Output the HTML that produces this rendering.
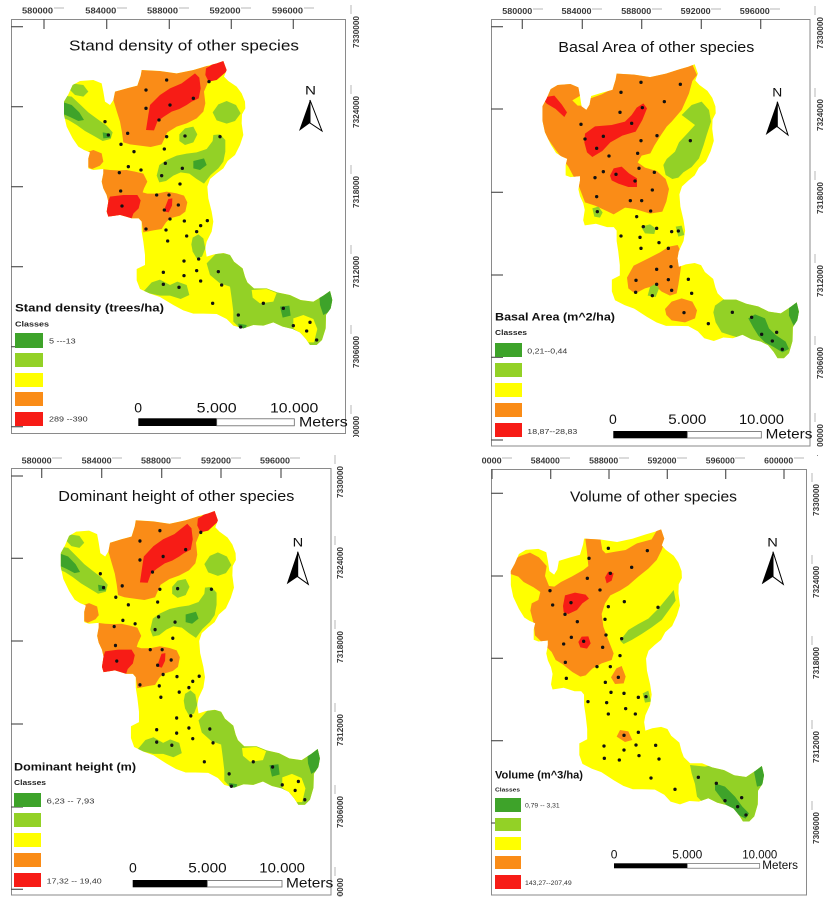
<!DOCTYPE html>
<html><head><meta charset="utf-8"><style>
html,body{margin:0;padding:0;background:#fff;}
svg{display:block;}
.tk{font-family:"Liberation Sans",sans-serif;font-weight:bold;font-size:8px;fill:#3a3a3a;}
.ti{font-family:"Liberation Sans",sans-serif;font-size:15px;fill:#111;}
.lt{font-family:"Liberation Sans",sans-serif;font-weight:bold;font-size:11px;fill:#111;}
.cl{font-family:"Liberation Sans",sans-serif;font-weight:bold;font-size:7px;fill:#222;}
.lb{font-family:"Liberation Sans",sans-serif;font-size:7.5px;fill:#333;}
.sc{font-family:"Liberation Sans",sans-serif;font-size:14px;fill:#111;}
.nn{font-family:"Liberation Sans",sans-serif;font-size:12px;fill:#111;}
</style></head><body>
<svg width="829" height="904" viewBox="0 0 829 904" xmlns="http://www.w3.org/2000/svg">
<defs>
<path id="outl" d="M38,90 L60,78 100,75 125,85 130,110 135,140 150,150 160,135 165,110 200,100 232,92 242,62 245,45 300,48 350,55 400,45 440,33 470,25 490,18 500,45 492,65 505,78 530,95 545,115 555,140 556,160 546,178 545,205 550,240 540,270 525,300 503,318 490,340 470,355 450,372 442,395 445,430 455,470 460,500 455,530 440,560 436,580 440,605 462,598 490,594 510,600 522,620 548,640 555,665 562,682 582,700 620,700 652,712 690,720 722,735 760,740 790,722 810,708 817,735 812,760 798,780 797,820 786,855 770,870 750,870 738,852 720,832 698,822 668,815 640,802 610,812 580,810 550,820 520,812 500,792 470,777 430,776 400,776 370,766 340,750 300,726 270,716 240,702 230,676 230,642 255,630 255,600 250,560 245,530 245,500 236,490 215,490 180,480 145,485 140,470 145,440 140,420 130,400 125,380 130,355 130,342 100,345 85,340 85,310 90,292 72,285 55,275 38,250 20,215 12,180 12,140 25,118 Z"/>
<clipPath id="c1"><use href="#outl"/></clipPath>
<clipPath id="c2"><use href="#outl" transform="translate(25,30) scale(0.956,1.035) translate(-15,-20)"/></clipPath>
<clipPath id="c4"><use href="#outl" transform="translate(20,30) scale(0.944,1.029) translate(-15,-20)"/></clipPath>
</defs>

<!-- ============ PANEL 1 MAP ============ -->
<g id="map1"><g transform="translate(60,55) scale(0.33333)">
 <g clip-path="url(#c1)">
  <rect x="0" y="0" width="900" height="900" fill="#ffff00"/>
  <polygon fill="#fa8c17" points="160,135 165,110 200,100 232,92 242,62 245,45 300,48 350,55 400,45 440,33 462,35 470,60 445,80 432,110 436,145 430,170 410,190 380,205 350,215 322,232 305,268 272,276 240,272 210,268 190,262 186,232 180,200 170,168"/>
  <polygon fill="#fa8c17" points="80,292 100,285 125,295 130,320 120,332 96,342 80,335"/>
  <polygon fill="#fa8c17" points="125,342 150,345 175,346 200,345 225,350 250,356 262,380 252,400 248,412 262,416 290,416 320,410 350,415 372,422 382,442 376,470 360,482 330,490 318,502 305,522 280,526 250,532 245,500 236,490 215,490 180,480 140,490 135,440 125,400"/>
  <polygon fill="#f71c16" points="258,225 265,180 270,150 300,120 330,100 365,85 405,55 418,68 422,100 416,130 395,140 380,150 358,162 335,170 310,186 292,200 282,226"/>
  <polygon fill="#f71c16" points="438,40 470,20 495,10 505,45 470,75 446,80 436,60"/>
  <polygon fill="#f71c16" points="140,452 150,425 190,420 232,420 242,436 236,460 220,476 215,490 180,480 140,490"/>
  <polygon fill="#f71c16" points="315,458 325,432 337,430 336,452 326,472 315,470"/>
  <polygon fill="#93d126" points="35,85 70,90 85,110 70,125 45,120 30,105"/>
  <polygon fill="#93d126" points="0,120 35,125 60,148 85,172 112,192 140,212 158,232 152,252 128,258 100,242 75,228 50,210 25,195 0,185"/>
  <polygon fill="#93d126" points="458,172 475,148 500,138 528,150 542,175 525,198 500,206 470,196"/>
  <polygon fill="#93d126" points="358,238 375,220 400,215 412,238 400,262 375,270 358,258"/>
  <polygon fill="#93d126" points="290,362 298,330 320,315 350,302 380,296 410,292 440,282 458,258 460,240 480,238 496,255 496,290 490,320 475,340 452,360 432,386 410,372 388,356 362,352 340,362 318,378 298,382"/>
  <polygon fill="#93d126" points="398,548 415,538 430,550 436,580 426,605 410,610 398,590 394,568"/>
  <polygon fill="#93d126" points="248,712 275,682 300,674 330,690 352,680 380,690 388,720 362,732 330,722 300,722 272,716"/>
  <polygon fill="#93d126" points="440,625 468,596 510,594 522,620 548,640 556,668 564,684 582,700 620,700 652,712 690,720 722,735 760,740 790,722 812,705 830,700 830,890 740,890 540,820 520,800 520,770 515,730 510,695 480,685 450,660"/>
  <polygon fill="#ffff00" points="700,790 730,780 760,792 772,822 762,862 742,862 722,836 700,820"/>
  <polygon fill="#ffff00" points="575,705 620,702 650,714 640,740 600,745 578,728"/>
  <polygon fill="#3ea32a" points="5,140 35,150 58,172 72,195 55,198 30,186 5,175"/>
  <polygon fill="#3ea32a" points="128,232 150,236 152,248 130,250"/>
  <polygon fill="#3ea32a" points="778,722 815,700 822,740 808,770 790,780 780,750"/>
  <polygon fill="#3ea32a" points="660,755 688,752 692,782 668,788"/>
  <polygon fill="#3ea32a" points="535,806 560,810 556,826 535,822"/>
  <polygon fill="#3ea32a" points="400,318 432,310 440,330 420,345 400,340"/>
 </g>
 <g fill="#111">
  <circle cx="320" cy="75" r="5"/><circle cx="258" cy="105" r="5"/><circle cx="447" cy="80" r="5"/><circle cx="400" cy="130" r="5"/><circle cx="330" cy="150" r="5"/><circle cx="258" cy="160" r="5"/><circle cx="297" cy="195" r="5"/><circle cx="135" cy="200" r="5"/><circle cx="203" cy="235" r="5"/><circle cx="320" cy="245" r="5"/><circle cx="375" cy="243" r="5"/><circle cx="480" cy="245" r="5"/><circle cx="145" cy="240" r="5"/><circle cx="183" cy="268" r="5"/><circle cx="313" cy="282" r="5"/><circle cx="222" cy="290" r="5"/><circle cx="205" cy="335" r="5"/><circle cx="243" cy="345" r="5"/><circle cx="178" cy="353" r="5"/><circle cx="316" cy="325" r="5"/><circle cx="367" cy="340" r="5"/><circle cx="305" cy="362" r="5"/><circle cx="360" cy="387" r="5"/><circle cx="182" cy="408" r="5"/><circle cx="290" cy="420" r="5"/><circle cx="327" cy="420" r="5"/><circle cx="186" cy="453" r="5"/><circle cx="313" cy="465" r="5"/><circle cx="355" cy="450" r="5"/><circle cx="330" cy="492" r="5"/><circle cx="373" cy="498" r="5"/><circle cx="422" cy="512" r="5"/><circle cx="442" cy="497" r="5"/><circle cx="258" cy="522" r="5"/><circle cx="318" cy="525" r="5"/><circle cx="323" cy="558" r="5"/><circle cx="380" cy="543" r="5"/><circle cx="410" cy="530" r="5"/><circle cx="416" cy="612" r="5"/><circle cx="372" cy="618" r="5"/><circle cx="310" cy="652" r="5"/><circle cx="372" cy="662" r="5"/><circle cx="410" cy="647" r="5"/><circle cx="422" cy="678" r="5"/><circle cx="310" cy="688" r="5"/><circle cx="357" cy="697" r="5"/><circle cx="485" cy="690" r="5"/><circle cx="475" cy="650" r="5"/><circle cx="458" cy="745" r="5"/><circle cx="535" cy="780" r="5"/><circle cx="610" cy="745" r="5"/><circle cx="670" cy="760" r="5"/><circle cx="700" cy="812" r="5"/><circle cx="740" cy="828" r="5"/><circle cx="770" cy="855" r="5"/><circle cx="750" cy="802" r="5"/><circle cx="542" cy="816" r="5"/>
 </g>
</g></g>

<!-- ============ PANEL 3 MAP (copy) ============ -->
<use href="#map1" transform="translate(61.7,511.7) scale(0.966,1.035) translate(-65,-61.7)"/>

<!-- ============ PANEL 2 MAP ============ -->
<g transform="translate(535,55) scale(0.33333)">
 <g clip-path="url(#c2)">
  <rect x="0" y="0" width="900" height="1000" fill="#ffff00"/>
  <polygon fill="#fa8c17" points="5,100 45,80 95,76 132,88 136,122 112,136 128,152 160,152 166,130 200,118 234,100 238,55 300,45 380,38 430,28 472,28 486,60 472,78 462,115 440,165 410,200 395,215 378,240 358,272 346,295 320,302 308,322 330,338 365,348 392,372 402,402 394,440 382,470 345,476 300,462 270,458 250,470 236,478 215,468 180,452 150,442 132,395 100,335 60,282 38,250 15,200 5,150"/>
  <polygon fill="#f71c16" points="20,128 58,122 80,148 96,172 88,186 62,162 35,146"/>
  <polygon fill="#f71c16" points="148,262 150,236 180,214 230,210 270,200 290,180 305,158 325,145 336,160 322,195 302,230 262,242 226,262 202,288 172,306 156,292"/>
  <polygon fill="#f71c16" points="225,362 236,340 260,335 282,355 306,370 306,396 280,396 250,386 230,376"/>
  <polygon fill="#93d126" points="440,180 470,150 500,140 522,165 528,200 515,240 506,270 492,310 470,336 445,352 430,368 412,372 392,360 385,330 395,312 420,290 432,262 460,232 480,210"/>
  <polygon fill="#93d126" points="172,460 190,455 203,472 195,488 178,485"/>
  <polygon fill="#93d126" points="318,515 345,508 362,520 358,537 330,535"/>
  <polygon fill="#93d126" points="422,515 440,512 448,540 430,545"/>
  <polygon fill="#fa8c17" points="276,668 296,632 340,610 375,592 402,575 428,570 442,600 436,650 430,690 425,715 405,722 380,710 360,692 330,700 300,716 280,700"/>
  <polygon fill="#93d126" points="338,722 345,696 362,686 372,700 362,726"/>
  <polygon fill="#fa8c17" points="390,762 410,740 440,730 472,740 486,766 480,790 450,802 410,796 394,780"/>
  <polygon fill="#93d126" points="540,752 570,730 620,728 662,735 700,744 740,740 800,735 800,920 740,920 700,900 660,882 640,862 618,850 590,842 560,832 542,802 535,772"/>
  <polygon fill="#3ea32a" points="640,790 660,778 690,790 702,820 722,840 752,860 762,882 742,892 716,876 690,862 670,842 655,818"/>
  <polygon fill="#3ea32a" points="762,745 800,725 800,795 776,812 762,782"/>
 </g>
 <g fill="#111">
  <circle cx="318" cy="82" r="5"/><circle cx="436" cy="88" r="5"/><circle cx="258" cy="112" r="5"/><circle cx="388" cy="140" r="5"/><circle cx="322" cy="158" r="5"/><circle cx="255" cy="172" r="5"/><circle cx="290" cy="205" r="5"/><circle cx="138" cy="208" r="5"/><circle cx="150" cy="252" r="5"/><circle cx="205" cy="244" r="5"/><circle cx="185" cy="280" r="5"/><circle cx="318" cy="257" r="5"/><circle cx="366" cy="242" r="5"/><circle cx="466" cy="257" r="5"/><circle cx="308" cy="295" r="5"/><circle cx="222" cy="303" r="5"/><circle cx="205" cy="350" r="5"/><circle cx="180" cy="368" r="5"/><circle cx="243" cy="358" r="5"/><circle cx="300" cy="378" r="5"/><circle cx="312" cy="340" r="5"/><circle cx="352" cy="405" r="5"/><circle cx="185" cy="425" r="5"/><circle cx="286" cy="437" r="5"/><circle cx="320" cy="437" r="5"/><circle cx="347" cy="468" r="5"/><circle cx="358" cy="352" r="5"/><circle cx="187" cy="470" r="5"/><circle cx="305" cy="485" r="5"/><circle cx="325" cy="515" r="5"/><circle cx="365" cy="520" r="5"/><circle cx="410" cy="530" r="5"/><circle cx="430" cy="528" r="5"/><circle cx="258" cy="543" r="5"/><circle cx="315" cy="547" r="5"/><circle cx="372" cy="563" r="5"/><circle cx="318" cy="580" r="5"/><circle cx="400" cy="580" r="5"/><circle cx="365" cy="643" r="5"/><circle cx="408" cy="635" r="5"/><circle cx="303" cy="676" r="5"/><circle cx="400" cy="674" r="5"/><circle cx="460" cy="673" r="5"/><circle cx="365" cy="688" r="5"/><circle cx="352" cy="722" r="5"/><circle cx="302" cy="712" r="5"/><circle cx="410" cy="706" r="5"/><circle cx="470" cy="715" r="5"/><circle cx="447" cy="773" r="5"/><circle cx="520" cy="806" r="5"/><circle cx="592" cy="772" r="5"/><circle cx="650" cy="787" r="5"/><circle cx="680" cy="838" r="5"/><circle cx="712" cy="858" r="5"/><circle cx="742" cy="883" r="5"/><circle cx="725" cy="832" r="5"/>
 </g>
</g>

<!-- ============ PANEL 4 MAP ============ -->
<g transform="translate(505,520) scale(0.33333)">
 <g clip-path="url(#c4)">
  <rect x="0" y="0" width="900" height="1000" fill="#ffff00"/>
  <polygon fill="#fa8c17" points="10,130 45,108 75,98 102,112 125,138 120,168 132,198 148,200 168,186 200,170 235,150 250,138 246,96 240,50 285,50 292,90 302,100 332,95 362,90 396,70 440,58 462,20 485,50 470,90 455,120 430,146 400,170 370,196 345,212 316,226 300,250 290,282 295,320 310,360 326,400 320,420 290,430 262,446 242,466 226,470 202,456 172,432 152,420 140,396 110,366 90,346 86,310 76,272 80,250 100,240 106,216 86,202 56,186 40,170 10,160"/>
  <polygon fill="#f71c16" points="174,258 180,226 210,218 242,224 252,236 232,250 216,270 190,282 176,276"/>
  <polygon fill="#f71c16" points="220,366 230,350 250,349 257,370 246,386 226,382"/>
  <polygon fill="#f71c16" points="300,172 310,155 326,160 320,182 305,190"/>
  <polygon fill="#fa8c17" points="318,472 334,445 350,438 362,470 356,490 330,492"/>
  <polygon fill="#fa8c17" points="335,650 345,630 370,634 382,660 360,666"/>
  <polygon fill="#93d126" points="345,362 370,330 400,312 430,296 460,266 488,232 506,210 512,242 492,270 470,300 440,322 410,342 380,360 356,372"/>
  <polygon fill="#93d126" points="413,520 430,512 438,545 420,548"/>
  <polygon fill="#93d126" points="555,735 600,740 650,728 700,738 800,725 800,930 700,900 660,872 630,860 596,850 576,830 570,792 560,760"/>
  <polygon fill="#3ea32a" points="630,790 660,800 690,830 712,860 732,880 722,896 690,880 665,856 645,830 630,810"/>
  <polygon fill="#3ea32a" points="745,745 800,725 800,790 756,800"/>
 </g>
 <g fill="#111">
  <circle cx="310" cy="85" r="5"/><circle cx="427" cy="92" r="5"/><circle cx="252" cy="115" r="5"/><circle cx="380" cy="142" r="5"/><circle cx="316" cy="160" r="5"/><circle cx="247" cy="175" r="5"/><circle cx="135" cy="212" r="5"/><circle cx="285" cy="210" r="5"/><circle cx="198" cy="248" r="5"/><circle cx="143" cy="255" r="5"/><circle cx="310" cy="260" r="5"/><circle cx="358" cy="245" r="5"/><circle cx="180" cy="283" r="5"/><circle cx="217" cy="305" r="5"/><circle cx="300" cy="298" r="5"/><circle cx="303" cy="345" r="5"/><circle cx="199" cy="352" r="5"/><circle cx="236" cy="364" r="5"/><circle cx="176" cy="372" r="5"/><circle cx="293" cy="382" r="5"/><circle cx="345" cy="407" r="5"/><circle cx="181" cy="427" r="5"/><circle cx="276" cy="440" r="5"/><circle cx="316" cy="440" r="5"/><circle cx="340" cy="472" r="5"/><circle cx="301" cy="487" r="5"/><circle cx="184" cy="475" r="5"/><circle cx="318" cy="517" r="5"/><circle cx="357" cy="520" r="5"/><circle cx="400" cy="532" r="5"/><circle cx="423" cy="530" r="5"/><circle cx="249" cy="545" r="5"/><circle cx="305" cy="548" r="5"/><circle cx="362" cy="566" r="5"/><circle cx="391" cy="582" r="5"/><circle cx="310" cy="582" r="5"/><circle cx="400" cy="637" r="5"/><circle cx="357" cy="646" r="5"/><circle cx="297" cy="678" r="5"/><circle cx="357" cy="690" r="5"/><circle cx="393" cy="675" r="5"/><circle cx="452" cy="676" r="5"/><circle cx="298" cy="715" r="5"/><circle cx="343" cy="720" r="5"/><circle cx="402" cy="707" r="5"/><circle cx="462" cy="717" r="5"/><circle cx="438" cy="774" r="5"/><circle cx="510" cy="808" r="5"/><circle cx="580" cy="772" r="5"/><circle cx="634" cy="790" r="5"/><circle cx="660" cy="842" r="5"/><circle cx="698" cy="860" r="5"/><circle cx="723" cy="885" r="5"/><circle cx="710" cy="833" r="5"/><circle cx="459" cy="262" r="5"/><circle cx="350" cy="356" r="5"/>
 </g>
</g>

<!-- ============ FRAMES ============ -->
<g fill="none" stroke="#8a8a8a" stroke-width="1">
 <rect x="11.5" y="19.5" width="334" height="414"/>
 <rect x="491.5" y="19.5" width="318.5" height="426.5"/>
 <rect x="11.5" y="468.5" width="319.5" height="426.5"/>
 <rect x="491.5" y="469.5" width="315" height="425.5"/>
</g>

<!-- ticks -->
<g stroke="#555" stroke-width="1.2">
 <line x1="44" y1="19" x2="44" y2="29"/><line x1="106.7" y1="19" x2="106.7" y2="29"/><line x1="169.3" y1="19" x2="169.3" y2="29"/><line x1="231.3" y1="19" x2="231.3" y2="29"/><line x1="293.3" y1="19" x2="293.3" y2="29"/>
 <line x1="11" y1="26.7" x2="23" y2="26.7"/><line x1="11" y1="106.7" x2="23" y2="106.7"/><line x1="11" y1="186.7" x2="23" y2="186.7"/><line x1="11" y1="266.7" x2="23" y2="266.7"/><line x1="11" y1="346.7" x2="23" y2="346.7"/><line x1="11" y1="426.7" x2="23" y2="426.7"/>
 <line x1="522.3" y1="19" x2="522.3" y2="29"/><line x1="582.3" y1="19" x2="582.3" y2="29"/><line x1="641.7" y1="19" x2="641.7" y2="29"/><line x1="701.3" y1="19" x2="701.3" y2="29"/><line x1="760.7" y1="19" x2="760.7" y2="29"/>
 <line x1="491" y1="26.7" x2="503" y2="26.7"/><line x1="491" y1="109" x2="503" y2="109"/><line x1="491" y1="192.3" x2="503" y2="192.3"/><line x1="491" y1="275" x2="503" y2="275"/><line x1="491" y1="357.3" x2="503" y2="357.3"/><line x1="491" y1="440" x2="503" y2="440"/>
 <line x1="41.7" y1="468" x2="41.7" y2="478"/><line x1="101.7" y1="468" x2="101.7" y2="478"/><line x1="161.7" y1="468" x2="161.7" y2="478"/><line x1="221" y1="468" x2="221" y2="478"/><line x1="281" y1="468" x2="281" y2="478"/>
 <line x1="11" y1="476" x2="23" y2="476"/><line x1="11" y1="558.3" x2="23" y2="558.3"/><line x1="11" y1="641" x2="23" y2="641"/><line x1="11" y1="724" x2="23" y2="724"/><line x1="11" y1="807" x2="23" y2="807"/><line x1="11" y1="889.3" x2="23" y2="889.3"/>
 <line x1="492" y1="469" x2="492" y2="479"/><line x1="550.7" y1="469" x2="550.7" y2="479"/><line x1="609" y1="469" x2="609" y2="479"/><line x1="667.3" y1="469" x2="667.3" y2="479"/><line x1="725.7" y1="469" x2="725.7" y2="479"/><line x1="784" y1="469" x2="784" y2="479"/>
 <line x1="491" y1="493.3" x2="503" y2="493.3"/><line x1="491" y1="576" x2="503" y2="576"/><line x1="491" y1="658.3" x2="503" y2="658.3"/><line x1="491" y1="740.7" x2="503" y2="740.7"/><line x1="491" y1="823" x2="503" y2="823"/>
</g>

<!-- light gray dashes after labels -->
<g stroke="#cfcfcf" stroke-width="1.5">
 <line x1="54" y1="8" x2="64" y2="8"/><line x1="117" y1="8" x2="127" y2="8"/><line x1="179" y1="8" x2="189" y2="8"/><line x1="241" y1="8" x2="251" y2="8"/><line x1="304" y1="8" x2="314" y2="8"/>
 <line x1="533" y1="9" x2="543" y2="9"/><line x1="592" y1="9" x2="602" y2="9"/><line x1="652" y1="9" x2="662" y2="9"/><line x1="711" y1="9" x2="721" y2="9"/><line x1="770" y1="9" x2="780" y2="9"/>
 <line x1="52" y1="458" x2="62" y2="458"/><line x1="112" y1="458" x2="122" y2="458"/><line x1="171" y1="458" x2="181" y2="458"/><line x1="231" y1="458" x2="241" y2="458"/><line x1="290" y1="458" x2="300" y2="458"/>
 <line x1="502" y1="458" x2="512" y2="458"/><line x1="560" y1="458" x2="570" y2="458"/><line x1="619" y1="458" x2="629" y2="458"/><line x1="677" y1="458" x2="687" y2="458"/><line x1="735" y1="458" x2="745" y2="458"/><line x1="794" y1="458" x2="804" y2="458"/>
 <line x1="351" y1="5" x2="351" y2="14"/><line x1="351" y1="85" x2="351" y2="94"/><line x1="351" y1="165" x2="351" y2="174"/><line x1="351" y1="245" x2="351" y2="254"/><line x1="351" y1="325" x2="351" y2="334"/><line x1="351" y1="405" x2="351" y2="414"/>
 <line x1="815" y1="6" x2="815" y2="15"/><line x1="815" y1="88" x2="815" y2="97"/><line x1="815" y1="171" x2="815" y2="180"/><line x1="815" y1="254" x2="815" y2="263"/><line x1="815" y1="336" x2="815" y2="345"/><line x1="815" y1="413" x2="815" y2="422"/>
 <line x1="335" y1="455" x2="335" y2="464"/><line x1="335" y1="536" x2="335" y2="545"/><line x1="335" y1="620" x2="335" y2="629"/><line x1="335" y1="703" x2="335" y2="712"/><line x1="335" y1="785" x2="335" y2="794"/><line x1="335" y1="867" x2="335" y2="876"/>
 <line x1="812" y1="473" x2="812" y2="482"/><line x1="812" y1="555" x2="812" y2="564"/><line x1="812" y1="636" x2="812" y2="645"/><line x1="812" y1="720" x2="812" y2="729"/><line x1="812" y1="801" x2="812" y2="810"/>
</g>

<!-- top tick labels -->
<g class="tk" text-anchor="middle">
 <text x="37.5" y="13.5" textLength="31" lengthAdjust="spacingAndGlyphs">580000</text>
 <text x="100.8" y="13.5" textLength="31" lengthAdjust="spacingAndGlyphs">584000</text>
 <text x="162.5" y="13.5" textLength="31" lengthAdjust="spacingAndGlyphs">588000</text>
 <text x="225" y="13.5" textLength="31" lengthAdjust="spacingAndGlyphs">592000</text>
 <text x="287.5" y="13.5" textLength="31" lengthAdjust="spacingAndGlyphs">596000</text>
 <text x="517.3" y="14" textLength="30" lengthAdjust="spacingAndGlyphs">580000</text>
 <text x="576.5" y="14" textLength="30" lengthAdjust="spacingAndGlyphs">584000</text>
 <text x="636.3" y="14" textLength="30" lengthAdjust="spacingAndGlyphs">588000</text>
 <text x="695.7" y="14" textLength="30" lengthAdjust="spacingAndGlyphs">592000</text>
 <text x="754.8" y="14" textLength="30" lengthAdjust="spacingAndGlyphs">596000</text>
 <text x="36.7" y="463.5" textLength="30" lengthAdjust="spacingAndGlyphs">580000</text>
 <text x="96.7" y="463.5" textLength="30" lengthAdjust="spacingAndGlyphs">584000</text>
 <text x="156" y="463.5" textLength="30" lengthAdjust="spacingAndGlyphs">588000</text>
 <text x="216" y="463.5" textLength="30" lengthAdjust="spacingAndGlyphs">592000</text>
 <text x="275" y="463.5" textLength="30" lengthAdjust="spacingAndGlyphs">596000</text>
 <text x="491.7" y="463.5" textLength="20" lengthAdjust="spacingAndGlyphs">0000</text>
 <text x="545.3" y="463.5" textLength="29" lengthAdjust="spacingAndGlyphs">584000</text>
 <text x="603.7" y="463.5" textLength="29" lengthAdjust="spacingAndGlyphs">588000</text>
 <text x="662" y="463.5" textLength="29" lengthAdjust="spacingAndGlyphs">592000</text>
 <text x="720.3" y="463.5" textLength="29" lengthAdjust="spacingAndGlyphs">596000</text>
 <text x="778.7" y="463.5" textLength="29" lengthAdjust="spacingAndGlyphs">600000</text>
</g>

<!-- right rotated labels -->
<g class="tk" text-anchor="middle">
 <text transform="translate(359,32) rotate(-90)" textLength="32" lengthAdjust="spacingAndGlyphs">7330000</text>
 <text transform="translate(359,112) rotate(-90)" textLength="32" lengthAdjust="spacingAndGlyphs">7324000</text>
 <text transform="translate(359,192) rotate(-90)" textLength="32" lengthAdjust="spacingAndGlyphs">7318000</text>
 <text transform="translate(359,272) rotate(-90)" textLength="32" lengthAdjust="spacingAndGlyphs">7312000</text>
 <text transform="translate(359,352) rotate(-90)" textLength="32" lengthAdjust="spacingAndGlyphs">7306000</text>
 <text transform="translate(359,432) rotate(-90)" textLength="32" lengthAdjust="spacingAndGlyphs">7300000</text>
 <text transform="translate(823,33) rotate(-90)" textLength="32" lengthAdjust="spacingAndGlyphs">7330000</text>
 <text transform="translate(823,115) rotate(-90)" textLength="32" lengthAdjust="spacingAndGlyphs">7324000</text>
 <text transform="translate(823,198) rotate(-90)" textLength="32" lengthAdjust="spacingAndGlyphs">7318000</text>
 <text transform="translate(823,281) rotate(-90)" textLength="32" lengthAdjust="spacingAndGlyphs">7312000</text>
 <text transform="translate(823,363) rotate(-90)" textLength="32" lengthAdjust="spacingAndGlyphs">7306000</text>
 <text transform="translate(823,440) rotate(-90)" textLength="32" lengthAdjust="spacingAndGlyphs">7300000</text>
 <text transform="translate(343,482) rotate(-90)" textLength="32" lengthAdjust="spacingAndGlyphs">7330000</text>
 <text transform="translate(343,563) rotate(-90)" textLength="32" lengthAdjust="spacingAndGlyphs">7324000</text>
 <text transform="translate(343,647) rotate(-90)" textLength="32" lengthAdjust="spacingAndGlyphs">7318000</text>
 <text transform="translate(343,730) rotate(-90)" textLength="32" lengthAdjust="spacingAndGlyphs">7312000</text>
 <text transform="translate(343,812) rotate(-90)" textLength="32" lengthAdjust="spacingAndGlyphs">7306000</text>
 <text transform="translate(343,894) rotate(-90)" textLength="32" lengthAdjust="spacingAndGlyphs">7300000</text>
 <text transform="translate(819,500) rotate(-90)" textLength="32" lengthAdjust="spacingAndGlyphs">7330000</text>
 <text transform="translate(819,582) rotate(-90)" textLength="32" lengthAdjust="spacingAndGlyphs">7324000</text>
 <text transform="translate(819,663) rotate(-90)" textLength="32" lengthAdjust="spacingAndGlyphs">7318000</text>
 <text transform="translate(819,747) rotate(-90)" textLength="32" lengthAdjust="spacingAndGlyphs">7312000</text>
 <text transform="translate(819,828) rotate(-90)" textLength="32" lengthAdjust="spacingAndGlyphs">7306000</text>
</g>
<!-- clip strips for the cut-off bottom labels -->
<rect x="340" y="437" width="25" height="16" fill="#fff"/>
<rect x="810" y="447" width="19" height="8" fill="#fff"/>
<rect x="330" y="897" width="25" height="7" fill="#fff"/>

<!-- titles -->
<text class="ti" x="69" y="50.7" textLength="230" lengthAdjust="spacingAndGlyphs">Stand density  of other species</text>
<text class="ti" x="558.3" y="52" textLength="196" lengthAdjust="spacingAndGlyphs">Basal Area of other species</text>
<text class="ti" x="58.3" y="501" textLength="236" lengthAdjust="spacingAndGlyphs">Dominant height of other species</text>
<text class="ti" x="570" y="501.7" textLength="167" lengthAdjust="spacingAndGlyphs">Volume of other species</text>

<!-- north arrows -->
<g>
 <text class="nn" x="305" y="94.3" textLength="11" lengthAdjust="spacingAndGlyphs">N</text>
 <polygon points="310,100 299,131 310,123" fill="#000"/>
 <polygon points="310,100 322,131 310,123" fill="#fff" stroke="#000" stroke-width="1"/>
 <text class="nn" x="772.3" y="96.7" textLength="10" lengthAdjust="spacingAndGlyphs">N</text>
 <polygon points="777.3,101.7 765.7,135 777.3,126.7" fill="#000"/>
 <polygon points="777.3,101.7 788,135 777.3,126.7" fill="#fff" stroke="#000" stroke-width="1"/>
 <text class="nn" x="292.7" y="546.7" textLength="10.6" lengthAdjust="spacingAndGlyphs">N</text>
 <polygon points="297.7,551.7 286.7,584.3 297.7,576.7" fill="#000"/>
 <polygon points="297.7,551.7 308.3,584.3 297.7,576.7" fill="#fff" stroke="#000" stroke-width="1"/>
 <text class="nn" x="767.3" y="546.7" textLength="10.6" lengthAdjust="spacingAndGlyphs">N</text>
 <polygon points="773,551.7 761.7,584.3 773,576.7" fill="#000"/>
 <polygon points="773,551.7 783.3,584.3 773,576.7" fill="#fff" stroke="#000" stroke-width="1"/>
</g>

<!-- legends -->
<text class="lt" x="15" y="311.7" textLength="149" lengthAdjust="spacingAndGlyphs">Stand density (trees/ha)</text>
<text class="cl" x="15" y="326.7" textLength="34" lengthAdjust="spacingAndGlyphs">Classes</text>
<rect x="15" y="333" width="28" height="15" fill="#3ea32a"/>
<rect x="15" y="353" width="28" height="14" fill="#93d126"/>
<rect x="15" y="373" width="28" height="14" fill="#ffff00"/>
<rect x="15" y="392" width="28" height="14" fill="#fa8c17"/>
<rect x="15" y="412" width="28" height="14" fill="#f71c16"/>
<text class="lb" x="49" y="343.3" textLength="26.7" lengthAdjust="spacingAndGlyphs">5 ---13</text>
<text class="lb" x="49" y="421.7" textLength="38.7" lengthAdjust="spacingAndGlyphs">289 --390</text>

<text class="lt" x="495" y="320.7" textLength="120" lengthAdjust="spacingAndGlyphs">Basal Area (m^2/ha)</text>
<text class="cl" x="495" y="335" textLength="32" lengthAdjust="spacingAndGlyphs">Classes</text>
<rect x="495" y="343" width="27" height="14" fill="#3ea32a"/>
<rect x="495" y="363" width="27" height="14" fill="#93d126"/>
<rect x="495" y="383" width="27" height="14" fill="#ffff00"/>
<rect x="495" y="403" width="27" height="14" fill="#fa8c17"/>
<rect x="495" y="423" width="27" height="14" fill="#f71c16"/>
<text class="lb" x="527.3" y="353.3" textLength="40" lengthAdjust="spacingAndGlyphs">0,21--0,44</text>
<text class="lb" x="527.3" y="434" textLength="50" lengthAdjust="spacingAndGlyphs">18,87--28,83</text>

<text class="lt" x="14" y="770.7" textLength="122" lengthAdjust="spacingAndGlyphs">Dominant height (m)</text>
<text class="cl" x="14" y="785" textLength="32" lengthAdjust="spacingAndGlyphs">Classes</text>
<rect x="14" y="793" width="27" height="14" fill="#3ea32a"/>
<rect x="14" y="813" width="27" height="14" fill="#93d126"/>
<rect x="14" y="833" width="27" height="14" fill="#ffff00"/>
<rect x="14" y="853" width="27" height="14" fill="#fa8c17"/>
<rect x="14" y="873" width="27" height="14" fill="#f71c16"/>
<text class="lb" x="46.7" y="803.3" textLength="47.7" lengthAdjust="spacingAndGlyphs">6,23  -- 7,93</text>
<text class="lb" x="46.7" y="883.3" textLength="55" lengthAdjust="spacingAndGlyphs">17,32 -- 19,40</text>

<text class="lt" x="495" y="778.3" textLength="88" lengthAdjust="spacingAndGlyphs">Volume (m^3/ha)</text>
<text class="cl" x="495" y="791.7" textLength="25" lengthAdjust="spacingAndGlyphs" style="font-size:5.5px">Classes</text>
<rect x="495" y="798" width="26" height="14" fill="#3ea32a"/>
<rect x="495" y="818" width="26" height="13" fill="#93d126"/>
<rect x="495" y="837" width="26" height="13" fill="#ffff00"/>
<rect x="495" y="856" width="26" height="13" fill="#fa8c17"/>
<rect x="495" y="875" width="26" height="14" fill="#f71c16"/>
<text class="lb" x="525" y="807.3" textLength="34.7" lengthAdjust="spacingAndGlyphs" style="font-size:6px">0,79 -- 3,31</text>
<text class="lb" x="525" y="885" textLength="46.7" lengthAdjust="spacingAndGlyphs" style="font-size:6px">143,27--207,49</text>

<!-- scale bars -->
<g>
 <text class="sc" x="134.3" y="412.3">0</text>
 <text class="sc" x="196.7" y="412.3" textLength="40" lengthAdjust="spacingAndGlyphs">5.000</text>
 <text class="sc" x="270" y="412.3" textLength="48.3" lengthAdjust="spacingAndGlyphs">10.000</text>
 <rect x="138.3" y="418.3" width="78.4" height="7.7" fill="#000"/>
 <rect x="216.7" y="418.8" width="77.6" height="7" fill="#fff" stroke="#666" stroke-width="0.8"/>
 <text class="sc" x="299" y="426.7" textLength="48.7" lengthAdjust="spacingAndGlyphs">Meters</text>

 <text class="sc" x="609" y="424">0</text>
 <text class="sc" x="668.3" y="424" textLength="38" lengthAdjust="spacingAndGlyphs">5.000</text>
 <text class="sc" x="739" y="424" textLength="45" lengthAdjust="spacingAndGlyphs">10.000</text>
 <rect x="613.3" y="431" width="74" height="7.3" fill="#000"/>
 <rect x="687.3" y="431.5" width="74" height="6.5" fill="#fff" stroke="#666" stroke-width="0.8"/>
 <text class="sc" x="765.7" y="438.3" textLength="46.7" lengthAdjust="spacingAndGlyphs">Meters</text>

 <text class="sc" x="129" y="872.7">0</text>
 <text class="sc" x="188.3" y="872.7" textLength="38.3" lengthAdjust="spacingAndGlyphs">5.000</text>
 <text class="sc" x="259.3" y="872.7" textLength="45.7" lengthAdjust="spacingAndGlyphs">10.000</text>
 <rect x="132.7" y="880" width="74.6" height="7.3" fill="#000"/>
 <rect x="207.3" y="880.5" width="74.7" height="6.5" fill="#fff" stroke="#666" stroke-width="0.8"/>
 <text class="sc" x="286" y="887.3" textLength="47.3" lengthAdjust="spacingAndGlyphs">Meters</text>

 <text class="sc" x="610.7" y="858.3" style="font-size:12px">0</text>
 <text class="sc" x="672.3" y="858.3" textLength="30" lengthAdjust="spacingAndGlyphs" style="font-size:12px">5.000</text>
 <text class="sc" x="742.3" y="858.3" textLength="35" lengthAdjust="spacingAndGlyphs" style="font-size:12px">10.000</text>
 <rect x="614" y="863.3" width="73.3" height="5" fill="#000"/>
 <rect x="687.3" y="863.6" width="72.4" height="4.6" fill="#fff" stroke="#666" stroke-width="0.7"/>
 <text class="sc" x="762.3" y="869" textLength="35.7" lengthAdjust="spacingAndGlyphs" style="font-size:12px">Meters</text>
</g>
</svg>
</body></html>
